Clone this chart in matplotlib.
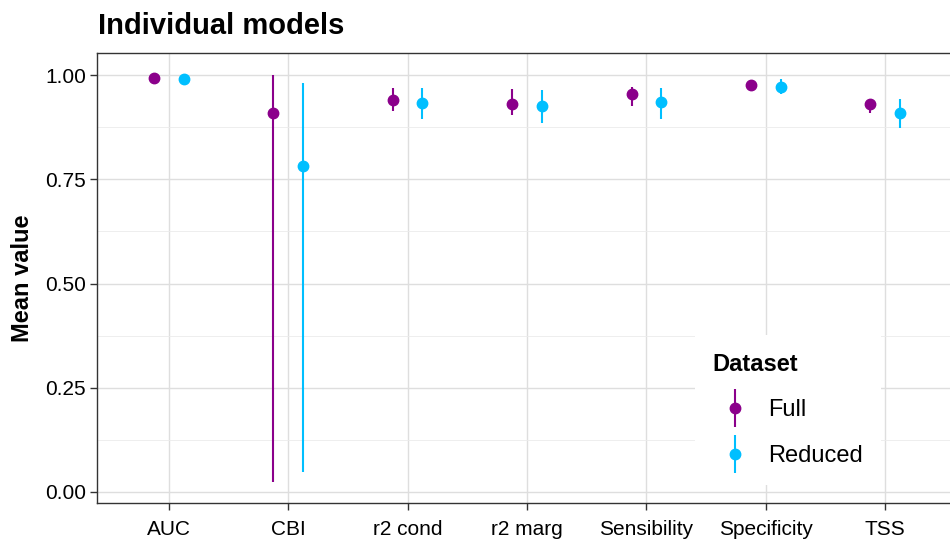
import matplotlib
matplotlib.use("Agg")
import matplotlib.pyplot as plt
from matplotlib.container import ErrorbarContainer
from matplotlib.legend_handler import HandlerErrorbar
import numpy as np

plt.rcParams['font.family'] = ['Liberation Sans', 'DejaVu Sans']

categories = ["AUC", "CBI", "r2 cond", "r2 marg", "Sensibility", "Specificity", "TSS"]
full_mean = [0.993, 0.908, 0.939, 0.931, 0.954, 0.977, 0.930]
full_low = [0.990, 0.024, 0.914, 0.903, 0.926, 0.973, 0.908]
full_high = [0.996, 1.000, 0.969, 0.966, 0.971, 0.981, 0.941]
red_mean = [0.990, 0.783, 0.933, 0.926, 0.936, 0.971, 0.908]
red_low = [0.986, 0.048, 0.895, 0.886, 0.895, 0.955, 0.873]
red_high = [0.994, 0.981, 0.968, 0.964, 0.970, 0.990, 0.943]

col_full = "#8B008B"
col_red = "#00BFFF"

fig = plt.figure(figsize=(9.5, 5.4), dpi=100)
ax = fig.add_axes([97/950, 1-503/540, (957-97)/950, (503-53)/540])

x = np.arange(1, len(categories) + 1)
dodge = 0.125

fm = np.array(full_mean); rm = np.array(red_mean)
e_full = ax.errorbar(x - dodge, fm, yerr=[fm - np.array(full_low), np.array(full_high) - fm],
                     fmt='o', color=col_full, ms=7.5, elinewidth=1.5, capsize=0, label="Full", zorder=3)
e_red = ax.errorbar(x + dodge, rm, yerr=[rm - np.array(red_low), np.array(red_high) - rm],
                    fmt='o', color=col_red, ms=7.5, elinewidth=1.5, capsize=0, label="Reduced", zorder=3)

ax.set_xlim(0.4, 7.6)
ax.set_ylim(-0.0264, 1.0528)
ax.set_xticks(x)
ax.set_xticklabels(categories)
ax.set_yticks([0, 0.25, 0.5, 0.75, 1.0])
ax.set_yticklabels(["0.00", "0.25", "0.50", "0.75", "1.00"])
ax.set_yticks([0.125, 0.375, 0.625, 0.875], minor=True)
ax.grid(True, which='major', color='#DEDEDE', linewidth=1.0, zorder=0)
ax.grid(True, which='minor', axis='y', color='#EBEBEB', linewidth=0.6, zorder=0)
ax.set_axisbelow(True)
ax.tick_params(axis='both', which='major', labelsize=15, length=5, width=1.0, color='#333333',
               labelcolor='black')
ax.tick_params(axis='x', which='major', pad=7)
ax.tick_params(axis='y', which='major', pad=3)
ax.tick_params(axis='both', which='minor', length=0)
for s in ax.spines.values():
    s.set_color('#333333')
    s.set_linewidth(1.0)

ax.set_ylabel("Mean value", fontsize=17, fontweight='bold', labelpad=8)

fig.text(98/950, 1-34/540, "Individual models", fontsize=21, fontweight='bold', ha='left', va='baseline')

leg = ax.legend(handles=[e_full, e_red], labels=["Full", "Reduced"], title="Dataset",
                loc='upper left', bbox_to_anchor=(695/950, 1-335/540), bbox_transform=fig.transFigure,
                frameon=True, facecolor='white', edgecolor='none', framealpha=1, fancybox=False,
                fontsize=17, title_fontproperties={'weight': 'bold', 'size': 17},
                alignment='left', handlelength=1.86, handletextpad=0.5, labelspacing=1.0,
                borderpad=0.75, borderaxespad=0,
                handler_map={ErrorbarContainer: HandlerErrorbar(yerr_size=0.8)})

fig.savefig("out.png", dpi=100)
